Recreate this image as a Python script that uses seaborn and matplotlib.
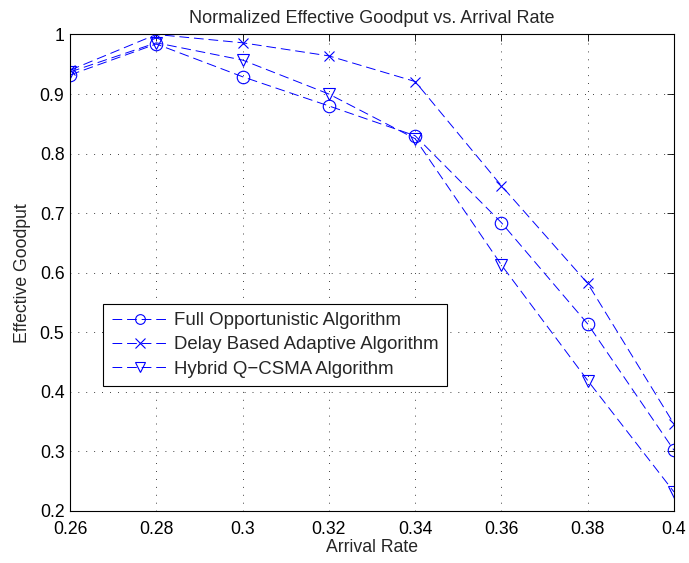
import matplotlib
matplotlib.use("Agg")
import matplotlib.pyplot as plt
import seaborn as sns
import pandas as pd

arrival_rate = [0.26, 0.28, 0.30, 0.32, 0.34, 0.36, 0.38, 0.40]
full_opportunistic = [0.932, 0.984, 0.929, 0.880, 0.830, 0.684, 0.514, 0.302]
delay_based = [0.940, 1.000, 0.986, 0.964, 0.921, 0.746, 0.582, 0.346]
hybrid_qcsma = [0.937, 0.986, 0.957, 0.900, 0.825, 0.613, 0.419, 0.232]

series_names = ["Full Opportunistic Algorithm",
                "Delay Based Adaptive Algorithm",
                "Hybrid Q\u2212CSMA Algorithm"]
series_values = [full_opportunistic, delay_based, hybrid_qcsma]
series_markers = ["o", "x", "v"]

x_ticks = [0.26, 0.28, 0.30, 0.32, 0.34, 0.36, 0.38, 0.40]
x_tick_labels = ["0.26", "0.28", "0.3", "0.32", "0.34", "0.36", "0.38", "0.4"]
y_ticks = [0.2, 0.3, 0.4, 0.5, 0.6, 0.7, 0.8, 0.9, 1.0]
y_tick_labels = ["0.2", "0.3", "0.4", "0.5", "0.6", "0.7", "0.8", "0.9", "1"]

sns.set_style("white")
plt.rcParams["font.family"] = ["Liberation Sans", "DejaVu Sans"]

fig = plt.figure(figsize=(6.89, 5.63), dpi=100)
ax = fig.add_axes([0.1016, 0.0924, 0.8766, 0.8464])

fs = 12.7
blue = (0, 0, 1)
for name, vals, mk in zip(series_names, series_values, series_markers):
    df = pd.DataFrame({"Arrival Rate": arrival_rate, "Effective Goodput": vals})
    sns.lineplot(data=df, x="Arrival Rate", y="Effective Goodput", ax=ax,
                 color=blue, linewidth=0.7, label=name,
                 marker=mk, markersize=9 if mk != "x" else 7,
                 markerfacecolor="none", markeredgecolor=blue,
                 markeredgewidth=0.8)
for line in ax.lines:
    line.set_linestyle((0, (10, 5)))

ax.set_xlim(0.26, 0.40)
ax.set_ylim(0.2, 1.0)
ax.set_xticks(x_ticks)
ax.set_xticklabels(x_tick_labels)
ax.set_yticks(y_ticks)
ax.set_yticklabels(y_tick_labels)
ax.tick_params(direction="in", length=5, width=0.6, labelsize=fs,
               top=True, right=True, colors="black")
ax.tick_params(axis="x", pad=7)
ax.tick_params(axis="y", pad=4)
ax.grid(True, linestyle=(0, (1, 8.5)), color="black", linewidth=0.6)
for sp in ax.spines.values():
    sp.set_visible(True)
    sp.set_color("black")
    sp.set_linewidth(0.8)

ax.set_xlabel("Arrival Rate", fontsize=fs, labelpad=1)
ax.set_ylabel("Effective Goodput", fontsize=fs, labelpad=6)
ax.set_title("Normalized Effective Goodput vs. Arrival Rate", fontsize=13, pad=8)

leg = ax.legend(loc="upper left", bbox_to_anchor=(0.0551, 0.4344),
                fontsize=13.4, frameon=True, fancybox=False, framealpha=1,
                edgecolor="black", handlelength=3.0, borderpad=0.45,
                labelspacing=0.38, handletextpad=0.35, borderaxespad=0)
leg.get_frame().set_linewidth(0.8)
for h in leg.get_lines():
    h.set_markersize(7)

fig.savefig("out.png", dpi=100)
